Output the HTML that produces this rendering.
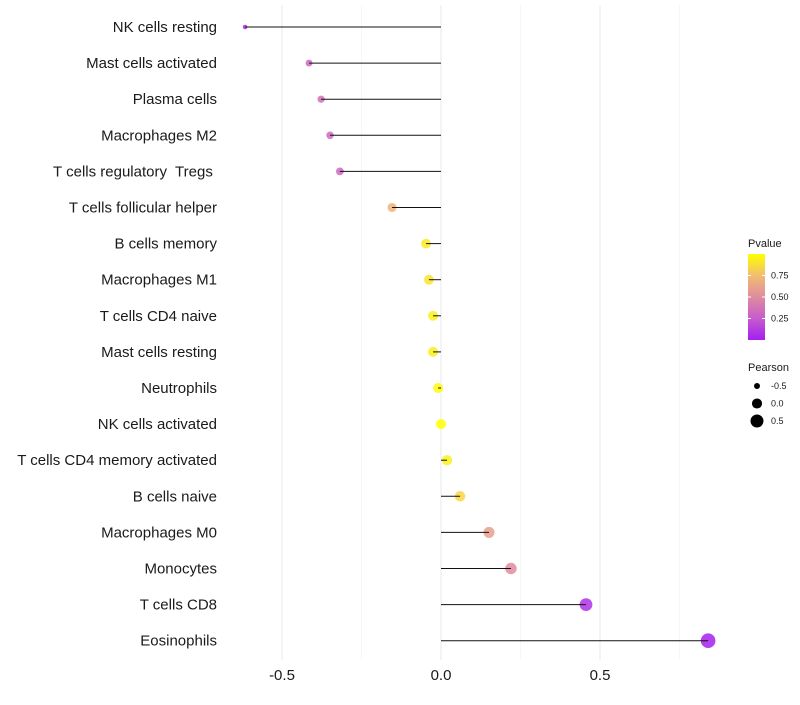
<!DOCTYPE html>
<html><head><meta charset="utf-8"><style>
body{margin:0;background:#fff;font-family:"Liberation Sans",sans-serif}
</style></head><body>
<svg id="c" width="800" height="700" xmlns="http://www.w3.org/2000/svg"></svg>
<script>
const categories=["NK cells resting","Mast cells activated","Plasma cells","Macrophages M2","T cells regulatory  Tregs ","T cells follicular helper","B cells memory","Macrophages M1","T cells CD4 naive","Mast cells resting","Neutrophils","NK cells activated","T cells CD4 memory activated","B cells naive","Macrophages M0","Monocytes","T cells CD8","Eosinophils"];
const pearson=[-0.616,-0.415,-0.377,-0.349,-0.318,-0.154,-0.047,-0.038,-0.025,-0.025,-0.009,0.0,0.019,0.06,0.151,0.22,0.456,0.84];
const pvalue=[0.03,0.30,0.35,0.33,0.32,0.70,0.92,0.9,0.94,0.94,0.98,1.0,0.95,0.85,0.6,0.5,0.08,0.01];
const xTicks=[-0.5,0,0.5];
const xTickLabels=["-0.5","0.0","0.5"];
const xMinor=[-0.25,0.25,0.75];
const pTicks=[0.25,0.5,0.75];
const pTickLabels=["0.25","0.50","0.75"];
const sizeTicks=[-0.5,0,0.5];
const sizeTickLabels=["-0.5","0.0","0.5"];

const svg=document.getElementById('c');
const NS="http://www.w3.org/2000/svg";
const X=v=>441+318*v;
const Y=i=>27+i*36.1;
const R=v=>Math.sqrt(Math.max(1,25.6+33.25*v));
const stops=[[0,[164,30,242]],[0.25,[198,92,203]],[0.5,[222,140,160]],[0.75,[242,189,112]],[1,[255,255,0]]];
function col(p){for(let i=1;i<stops.length;i++){if(p<=stops[i][0]){const a=stops[i-1],b=stops[i],t=(p-a[0])/(b[0]-a[0]);return 'rgb('+a[1].map((c,k)=>Math.round(c+(b[1][k]-c)*t)).join(',')+')';}}return 'rgb(255,255,0)';}
function el(t,a,txt){const e=document.createElementNS(NS,t);for(const k in a)e.setAttribute(k,a[k]);if(txt!==undefined)e.textContent=txt;svg.appendChild(e);return e;}

xMinor.forEach(v=>{const e=el('line',{x1:X(v),x2:X(v),y1:5,y2:660,stroke:'#f2f2f2','stroke-width':0.6});

});
xTicks.forEach((v,i)=>{const e=el('line',{x1:X(v),x2:X(v),y1:5,y2:660,stroke:'#ebebeb','stroke-width':1.1});


const t=el('text',{x:X(v),y:680,'text-anchor':'middle','font-size':15,fill:'#1a1a1a'},xTickLabels[i]);

});

categories.forEach((c,i)=>{
const t=el('text',{x:217,y:Y(i)+5,'text-anchor':'end','font-size':15,fill:'#1a1a1a','xml:space':'preserve',style:'white-space:pre'},c);


const p=el('circle',{cx:X(pearson[i]),cy:Y(i),r:R(pearson[i]),fill:col(pvalue[i]),'fill-opacity':0.85});


const l=el('line',{x1:X(0),x2:X(pearson[i]),y1:Y(i),y2:Y(i),stroke:'#111','stroke-width':1});


});

const defs=el('defs',{});
const g=document.createElementNS(NS,'linearGradient');g.setAttribute('id','pg');g.setAttribute('x1','0');g.setAttribute('y1','1');g.setAttribute('x2','0');g.setAttribute('y2','0');
stops.forEach(s=>{const st=document.createElementNS(NS,'stop');st.setAttribute('offset',s[0]);st.setAttribute('stop-color',col(s[0]));g.appendChild(st);});
defs.appendChild(g);
const lt=el('text',{x:748,y:247,'font-size':11,fill:'#1a1a1a'},'Pvalue');


const bar=el('rect',{x:748,y:254,width:17,height:86,fill:'url(#pg)'});


const PY=p=>340-86*p;
pTicks.forEach((v,i)=>{el('line',{x1:748,x2:751,y1:PY(v),y2:PY(v),stroke:'#fff'});el('line',{x1:762,x2:765,y1:PY(v),y2:PY(v),stroke:'#fff'});
const t=el('text',{x:771,y:PY(v)+3,'font-size':9,fill:'#1a1a1a'},pTickLabels[i]);

});
const st=el('text',{x:748,y:371,'font-size':11,fill:'#1a1a1a'},'Pearson');


sizeTicks.forEach((v,i)=>{const y=386+i*17.5;
const c=el('circle',{cx:757,cy:y,r:R(v),fill:'#000'});


const t=el('text',{x:771,y:y+3,'font-size':9,fill:'#1a1a1a'},sizeTickLabels[i]);

});
</script>
</body></html>
